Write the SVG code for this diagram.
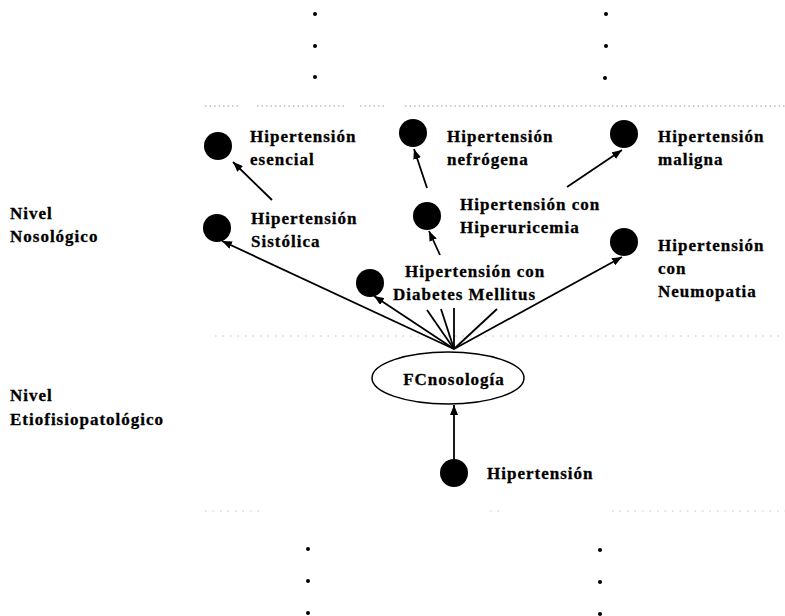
<svg xmlns="http://www.w3.org/2000/svg" width="785" height="616" viewBox="0 0 785 616">
  <defs>
    <marker id="arrow" viewBox="0 0 10 8" refX="10" refY="4" markerWidth="10" markerHeight="8" markerUnits="userSpaceOnUse" orient="auto">
      <path d="M0,0 L10,4 L0,8 Z" fill="#000"/>
    </marker>
  </defs>
  <style>
    text { font-family: "Liberation Serif", "Times New Roman", serif; font-weight: bold; font-size: 17px; letter-spacing: 1px; fill: #000; stroke: #000; stroke-width: 0.3; }
    .node { fill: #000; }
    .edge { stroke: #000; stroke-width: 1.8; fill: none; }
    .arr { marker-end: url(#arrow); }
    .sep { stroke: #999; stroke-width: 1; stroke-dasharray: 1.5 3; fill: none; }
    .sep-faint { stroke: #c4c4c4; stroke-width: 1; stroke-dasharray: 1.5 6; fill: none; }
    .ell { fill: #fff; stroke: #000; stroke-width: 1.5; }
  </style>
  <rect width="785" height="616" fill="#fff"/>

  <!-- continuation marks -->
  <g id="continuation-top" fill="#000">
    <circle cx="315" cy="14" r="2"/><circle cx="315" cy="46" r="2"/><circle cx="315" cy="77" r="2"/>
    <circle cx="606" cy="14" r="2"/><circle cx="606" cy="46" r="2"/><circle cx="605" cy="78" r="2"/>
  </g>
  <g id="continuation-bottom" fill="#000">
    <circle cx="308" cy="549" r="2"/><circle cx="308" cy="581" r="2"/><circle cx="308" cy="613" r="2"/>
    <circle cx="600" cy="550" r="2"/><circle cx="600" cy="582" r="2"/><circle cx="600" cy="614" r="2"/>
  </g>

  <!-- level separators -->
  <g id="separators">
    <path class="sep" d="M205,106 H238 M257,106 H345 M360,106 H386 M405,106 H785"/>
    <path class="sep-faint" d="M215,336 H785"/>
    <path class="sep-faint" d="M205,511 H265 M490,511 H500 M612,511 H785"/>
  </g>

  <!-- level labels -->
  <g id="level-nosologico">
    <text x="10" y="219">Nivel</text>
    <text x="10" y="242">Nosológico</text>
  </g>
  <g id="level-etiofisiopatologico">
    <text x="10" y="401">Nivel</text>
    <text x="10" y="425">Etiofisiopatológico</text>
  </g>

  <!-- connectors -->
  <g id="connectors">
    <line class="edge arr" x1="454" y1="349" x2="222" y2="241"/>
    <line class="edge arr" x1="454" y1="349" x2="374" y2="296"/>
    <line class="edge arr" x1="454" y1="349" x2="622" y2="257"/>
    <line class="edge" x1="454" y1="349" x2="427" y2="310"/>
    <line class="edge" x1="454" y1="349" x2="441" y2="309"/>
    <line class="edge" x1="454" y1="349" x2="454" y2="308"/>
    <line class="edge" x1="454" y1="349" x2="497" y2="309"/>
    <line class="edge arr" x1="272" y1="200" x2="233" y2="162"/>
    <line class="edge arr" x1="427" y1="188" x2="414" y2="149"/>
    <line class="edge arr" x1="440" y1="255" x2="429" y2="231"/>
    <line class="edge arr" x1="567" y1="187" x2="622" y2="150"/>
    <line class="edge arr" x1="454" y1="459" x2="454" y2="405"/>
  </g>

  <!-- nodes -->
  <g id="n-esencial">
    <circle class="node" cx="218" cy="146" r="14"/>
    <text x="250" y="142">Hipertensión</text>
    <text x="250" y="165">esencial</text>
  </g>
  <g id="n-nefrogena">
    <circle class="node" cx="413" cy="133" r="14"/>
    <text x="447" y="142">Hipertensión</text>
    <text x="447" y="165">nefrógena</text>
  </g>
  <g id="n-maligna">
    <circle class="node" cx="624" cy="134" r="14"/>
    <text x="658" y="142">Hipertensión</text>
    <text x="658" y="165">maligna</text>
  </g>
  <g id="n-sistolica">
    <circle class="node" cx="217" cy="228" r="14"/>
    <text x="251" y="224">Hipertensión</text>
    <text x="251" y="247">Sistólica</text>
  </g>
  <g id="n-hiperuricemia">
    <circle class="node" cx="427" cy="216" r="14"/>
    <text x="460" y="210">Hipertensión con</text>
    <text x="460" y="233">Hiperuricemia</text>
  </g>
  <g id="n-neumopatia">
    <circle class="node" cx="624" cy="242" r="14"/>
    <text x="658" y="251">Hipertensión</text>
    <text x="658" y="274">con</text>
    <text x="658" y="297">Neumopatia</text>
  </g>
  <g id="n-diabetes">
    <circle class="node" cx="370" cy="283" r="14"/>
    <text x="405" y="277">Hipertensión con</text>
    <text x="393" y="300">Diabetes Mellitus</text>
  </g>
  <g id="n-fcnosologia">
    <ellipse class="ell" cx="448" cy="378" rx="76" ry="26"/>
    <text x="454" y="385" text-anchor="middle">FCnosología</text>
  </g>
  <g id="n-hipertension">
    <circle class="node" cx="454" cy="473" r="14"/>
    <text x="487" y="479">Hipertensión</text>
  </g>
</svg>
